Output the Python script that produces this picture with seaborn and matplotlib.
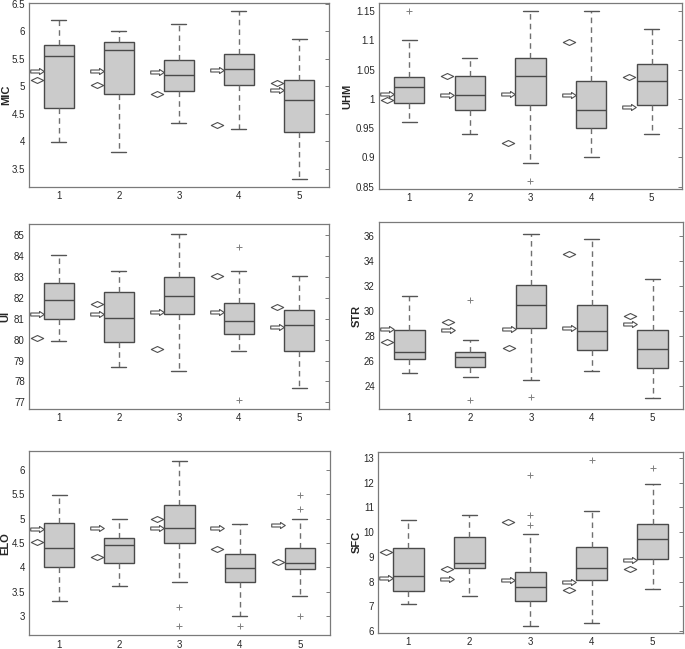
import numpy as np
import pandas as pd
import seaborn as sns
import matplotlib.pyplot as plt
from matplotlib.path import Path
from matplotlib.ticker import FuncFormatter

groups = [1, 2, 3, 4, 5]

# per group: lower whisker, q1, median, q3, upper whisker
mic_stats = [[3.98, 4.60, 5.54, 5.75, 6.20],
             [3.80, 4.86, 5.65, 5.81, 6.01],
             [4.33, 4.92, 5.20, 5.48, 6.13],
             [4.22, 5.03, 5.31, 5.58, 6.37],
             [3.31, 4.17, 4.74, 5.11, 5.86]]
mic_arrow = [5.28, 5.27, 5.26, 5.30, 4.93]
mic_diamond = [5.11, 5.02, 4.85, 4.29, 5.05]
mic_outliers = []

uhm_stats = [[0.960, 0.993, 1.021, 1.038, 1.100],
             [0.940, 0.981, 1.006, 1.039, 1.070],
             [0.890, 0.989, 1.040, 1.070, 1.150],
             [0.900, 0.951, 0.981, 1.030, 1.150],
             [0.940, 0.989, 1.031, 1.060, 1.120]]
uhm_arrow = [1.008, 1.006, 1.009, 1.007, 0.987]
uhm_diamond = [0.998, 1.039, 0.925, 1.098, 1.037]
uhm_outliers = [(1, 1.150), (3, 0.860)]

ui_stats = [[79.92, 80.99, 81.90, 82.72, 84.07],
            [78.67, 79.90, 81.04, 82.27, 83.27],
            [78.48, 81.23, 82.08, 83.00, 85.08],
            [79.47, 80.29, 80.91, 81.76, 83.27],
            [77.70, 79.47, 80.69, 81.44, 83.07]]
ui_arrow = [81.23, 81.23, 81.31, 81.33, 80.59]
ui_diamond = [80.08, 81.71, 79.55, 83.04, 81.55]
ui_outliers = [(4, 84.46), (4, 77.12)]

str_stats = [[25.04, 26.18, 26.76, 28.49, 31.27],
             [24.75, 25.57, 26.34, 26.76, 27.72],
             [24.48, 28.65, 30.50, 32.15, 36.20],
             [25.25, 26.90, 28.46, 30.48, 35.76],
             [23.07, 25.51, 27.03, 28.51, 32.60]]
str_arrow = [28.57, 28.54, 28.57, 28.70, 29.02]
str_diamond = [27.53, 29.15, 27.05, 34.57, 29.63]
str_outliers = [(2, 30.88), (2, 22.91), (3, 23.18)]

elo_stats = [[3.30, 4.00, 4.40, 4.92, 5.49],
             [3.61, 4.09, 4.45, 4.60, 5.00],
             [3.69, 4.50, 4.80, 5.29, 6.19],
             [2.99, 3.69, 3.99, 4.27, 4.90],
             [3.40, 3.97, 4.09, 4.40, 5.00]]
elo_arrow = [4.79, 4.80, 4.81, 4.81, 4.86]
elo_diamond = [4.53, 4.21, 4.99, 4.37, 4.10]
elo_outliers = [(3, 3.19), (3, 2.79), (4, 2.79), (5, 5.49), (5, 5.19), (5, 3.00)]

sfc_stats = [[7.11, 7.63, 8.23, 9.34, 10.50],
             [7.40, 8.53, 8.77, 9.81, 10.70],
             [6.20, 7.20, 7.80, 8.40, 9.93],
             [6.32, 8.07, 8.53, 9.39, 10.84],
             [7.70, 8.93, 9.73, 10.33, 11.93]]
sfc_arrow = [8.15, 8.10, 8.06, 8.00, 8.89]
sfc_diamond = [9.21, 8.50, 10.42, 7.66, 8.50]
sfc_outliers = [(3, 12.33), (3, 10.70), (3, 10.30), (4, 12.91), (5, 12.61)]

mic_ticks = [3.5, 4, 4.5, 5, 5.5, 6, 6.5]
uhm_ticks = [0.85, 0.9, 0.95, 1, 1.05, 1.1, 1.15]
ui_ticks = [77, 78, 79, 80, 81, 82, 83, 84, 85]
str_ticks = [24, 26, 28, 30, 32, 34, 36]
elo_ticks = [3, 3.5, 4, 4.5, 5, 5.5, 6]
sfc_ticks = [6, 7, 8, 9, 10, 11, 12, 13]

sns.set_style("white")
plt.rcParams["font.family"] = ["Liberation Sans", "DejaVu Sans"]

# marker shapes: block arrow pointing right, flat diamond
arrow_marker = Path([(-1, -0.22), (0.3, -0.22), (0.3, -0.45), (1, 0), (0.3, 0.45),
                     (0.3, 0.22), (-1, 0.22), (-1, -0.22)], closed=True)
diamond_marker = Path([(-1, 0), (0, 0.48), (1, 0), (0, -0.48), (-1, 0)], closed=True)

fig = plt.figure(figsize=(6.85, 6.49), dpi=100)

# name, stats, arrows, diamonds, outliers, ticks, ylim, axes rect, ylabel x
panels = [
    ("MIC", mic_stats, mic_arrow, mic_diamond, mic_outliers, mic_ticks, (3.17, 6.51),
     [0.0423, 0.7119, 0.438, 0.2835], -0.058),
    ("UHM", uhm_stats, uhm_arrow, uhm_diamond, uhm_outliers, uhm_ticks, (0.846, 1.164),
     [0.5533, 0.7088, 0.4423, 0.2866], -0.088),
    ("UI", ui_stats, ui_arrow, ui_diamond, ui_outliers, ui_ticks, (76.68, 85.54),
     [0.0423, 0.3698, 0.438, 0.285], -0.062),
    ("STR", str_stats, str_arrow, str_diamond, str_outliers, str_ticks, (22.2, 37.14),
     [0.5533, 0.3698, 0.4438, 0.288], -0.056),
    ("ELO", elo_stats, elo_arrow, elo_diamond, elo_outliers, elo_ticks, (2.6, 6.39),
     [0.0423, 0.0210, 0.4394, 0.2840], -0.062),
    ("SFC", sfc_stats, sfc_arrow, sfc_diamond, sfc_outliers, sfc_ticks, (5.93, 13.24),
     [0.5518, 0.0250, 0.4453, 0.2785], -0.052),
]

edge = "#4a4a4a"
for name, stats, arrows, diamonds, outliers, ticks, ylim, rect, lab_x in panels:
    ax = fig.add_axes(rect)
    df = pd.DataFrame({
        "group": np.repeat(groups, 5),
        "value": np.concatenate(stats),
    })
    sns.boxplot(data=df, x="group", y="value", native_scale=True, width=0.5,
                whis=(0, 100), showfliers=False, color="#cbcbcb", saturation=1,
                linecolor=edge, linewidth=1.0,
                whiskerprops=dict(linestyle=(0, (4, 3)), color="#707070"),
                capprops=dict(color="#555555"), ax=ax)

    xs = np.array(groups) - 0.37
    sns.scatterplot(x=xs, y=arrows, marker=arrow_marker, s=95, color="white",
                    edgecolor="#505050", linewidth=0.8, zorder=5, ax=ax)
    sns.scatterplot(x=xs, y=diamonds, marker=diamond_marker, s=80, color="white",
                    edgecolor="#505050", linewidth=0.8, zorder=5, ax=ax)
    if outliers:
        ox = [g for g, v in outliers]
        oy = [v for g, v in outliers]
        sns.scatterplot(x=ox, y=oy, marker="+", s=18, color="#808080",
                        linewidth=0.7, zorder=5, ax=ax)

    ax.set_xlim(0.5, 5.5)
    ax.set_xticks(groups)
    ax.set_xticklabels([str(g) for g in groups])
    ax.set_ylim(*ylim)
    ax.set_yticks(ticks)
    ax.yaxis.set_major_formatter(FuncFormatter(lambda v, p: f"{v:g}"))
    ax.tick_params(direction="in", length=3, right=True, labelsize=7,
                   color="#666666", width=0.6, pad=3)
    for sp in ax.spines.values():
        sp.set_color("#7a7a7a")
        sp.set_linewidth(0.9)
    ax.set_xlabel("")
    ax.set_ylabel(name, fontsize=8, fontweight="bold")
    ax.yaxis.set_label_coords(lab_x, 0.5)

fig.savefig("out.png", dpi=100)
